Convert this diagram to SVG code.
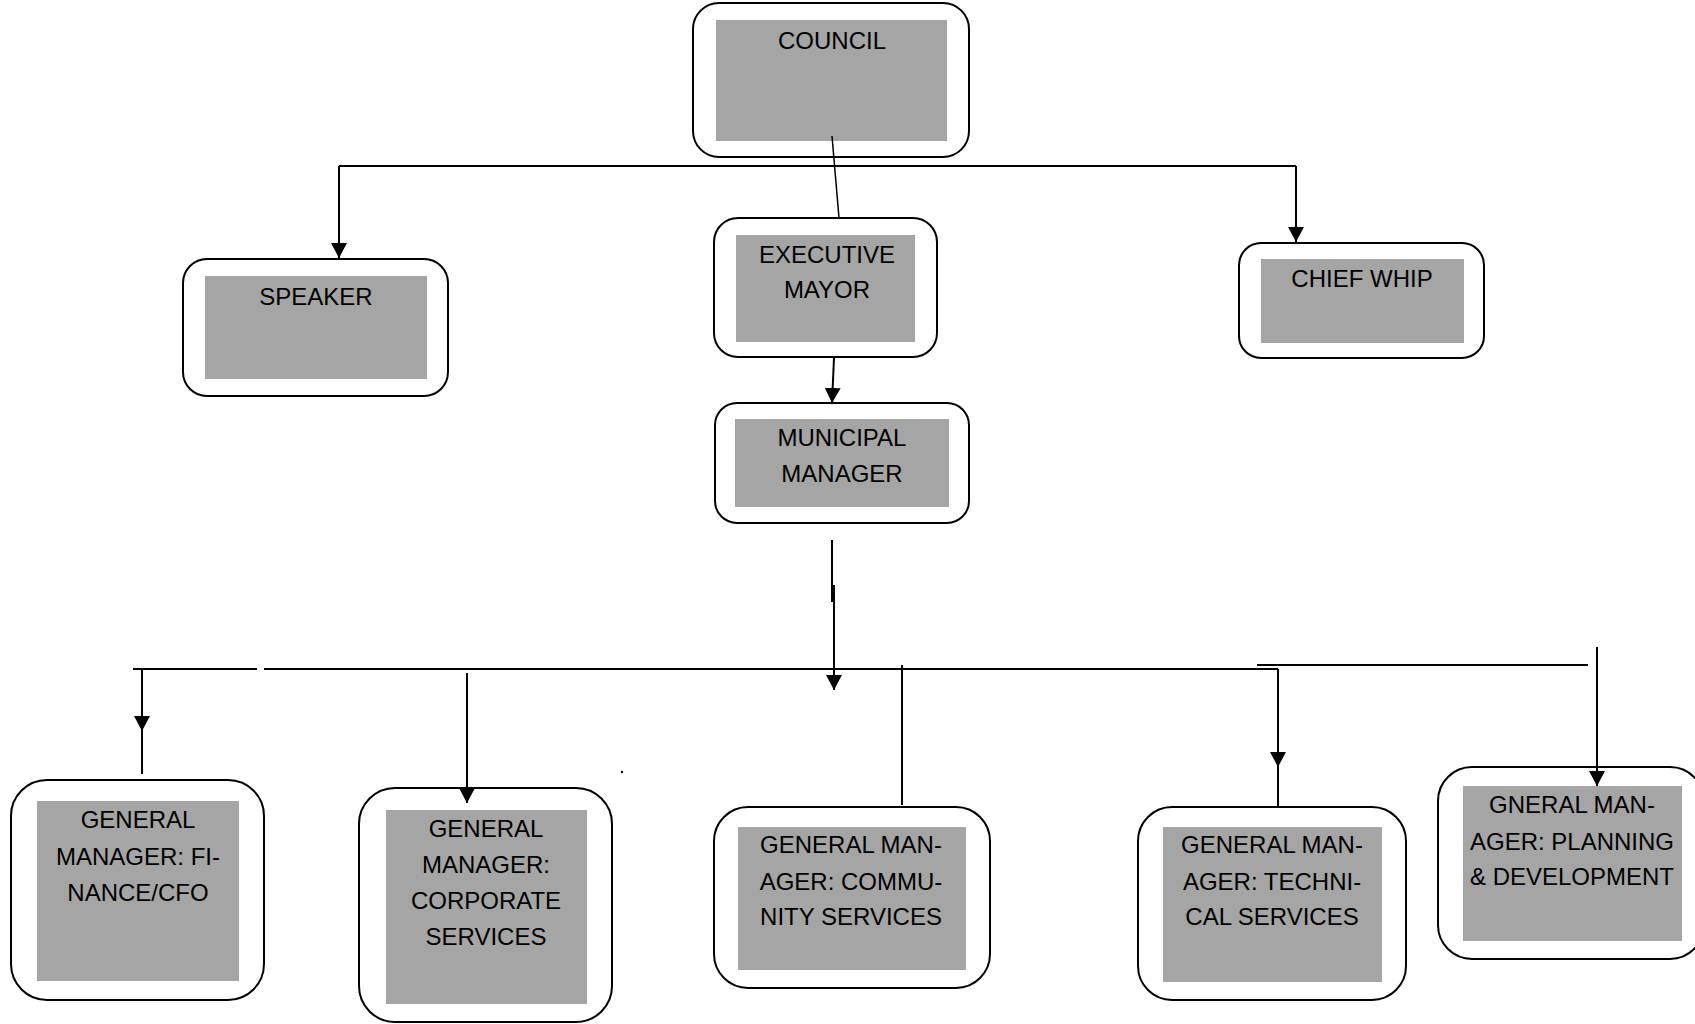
<svg xmlns="http://www.w3.org/2000/svg" width="1695" height="1024" viewBox="0 0 1695 1024">
  <style>
    .frame { fill: #ffffff; stroke: #000000; stroke-width: 2; }
    .panel { fill: #a5a5a5; stroke: none; }
    .label { font-family: "Liberation Sans", Arial, sans-serif; font-size: 24px; fill: #000000; text-anchor: middle; }
    .link { fill: none; stroke: #000000; stroke-width: 2; }
    .thin { stroke-width: 1.5; }
    .arrow { marker-end: url(#head); }
  </style>
  <defs>
    <marker id="head" markerUnits="userSpaceOnUse" markerWidth="16" markerHeight="16" refX="15" refY="8" orient="auto">
      <path d="M0,0 L15,8 L0,16 z" fill="#000000"/>
    </marker>
  </defs>

  <rect width="1695" height="1024" fill="#ffffff"/>

  <g id="council">
    <rect class="frame" x="693" y="3" width="276" height="154" rx="26"/>
    <rect class="panel" x="716" y="20" width="231" height="121"/>
    <text class="label" x="832" y="49">COUNCIL</text>
  </g>

  <g id="speaker">
    <rect class="frame" x="183" y="259" width="265" height="137" rx="24"/>
    <rect class="panel" x="205" y="276" width="222" height="103"/>
    <text class="label" x="316" y="305">SPEAKER</text>
  </g>

  <g id="executive-mayor">
    <rect class="frame" x="714" y="218" width="223" height="139" rx="24"/>
    <rect class="panel" x="736" y="235" width="179" height="107"/>
    <text class="label" x="827" y="263">EXECUTIVE</text>
    <text class="label" x="827" y="298">MAYOR</text>
  </g>

  <g id="chief-whip">
    <rect class="frame" x="1239" y="243" width="245" height="115" rx="22"/>
    <rect class="panel" x="1261" y="259" width="203" height="84"/>
    <text class="label" x="1362" y="287">CHIEF WHIP</text>
  </g>

  <g id="municipal-manager">
    <rect class="frame" x="715" y="403" width="254" height="120" rx="22"/>
    <rect class="panel" x="735" y="419" width="214" height="88"/>
    <text class="label" x="842" y="446">MUNICIPAL</text>
    <text class="label" x="842" y="482">MANAGER</text>
  </g>

  <g id="gm-finance">
    <rect class="frame" x="11" y="780" width="253" height="220" rx="36"/>
    <rect class="panel" x="37" y="801" width="202" height="180"/>
    <text class="label" x="138" y="828">GENERAL</text>
    <text class="label" x="138" y="865">MANAGER: FI-</text>
    <text class="label" x="138" y="901">NANCE/CFO</text>
  </g>

  <g id="gm-corporate">
    <rect class="frame" x="359" y="788" width="253" height="234" rx="36"/>
    <rect class="panel" x="386" y="810" width="201" height="194"/>
    <text class="label" x="486" y="837">GENERAL</text>
    <text class="label" x="486" y="873">MANAGER:</text>
    <text class="label" x="486" y="909">CORPORATE</text>
    <text class="label" x="486" y="945">SERVICES</text>
  </g>

  <g id="gm-community">
    <rect class="frame" x="714" y="807" width="276" height="181" rx="34"/>
    <rect class="panel" x="738" y="827" width="228" height="143"/>
    <text class="label" x="851" y="853">GENERAL MAN-</text>
    <text class="label" x="851" y="890">AGER: COMMU-</text>
    <text class="label" x="851" y="925">NITY SERVICES</text>
  </g>

  <g id="gm-technical">
    <rect class="frame" x="1138" y="807" width="268" height="193" rx="34"/>
    <rect class="panel" x="1163" y="827" width="219" height="155"/>
    <text class="label" x="1272" y="853">GENERAL MAN-</text>
    <text class="label" x="1272" y="890">AGER: TECHNI-</text>
    <text class="label" x="1272" y="925">CAL SERVICES</text>
  </g>

  <g id="gm-planning">
    <rect class="frame" x="1438" y="767" width="266" height="192" rx="34"/>
    <rect class="panel" x="1463" y="786" width="219" height="155"/>
    <text class="label" x="1572" y="813">GNERAL MAN-</text>
    <text class="label" x="1572" y="850">AGER: PLANNING</text>
    <text class="label" x="1572" y="885">&amp; DEVELOPMENT</text>
  </g>

  <!-- connectors, drawn over the boxes so arrowheads overlap the frames -->
  <g id="connectors">
    <path class="link thin" d="M832,136 L839,218"/>
    <path class="link" d="M339,166 H1296"/>
    <path class="link arrow" d="M339,166 V258"/>
    <path class="link arrow" d="M1296,166 V242"/>
    <path class="link arrow" d="M834,358 L832,403"/>
    <path class="link" d="M832,540 V602"/>
    <path class="link arrow" d="M834,585 V690"/>
    <path class="link" d="M133,669 H257"/>
    <path class="link" d="M264,669 H1278"/>
    <path class="link" d="M1257,665 H1588"/>
    <path class="link arrow" d="M142,669 V731"/>
    <path class="link" d="M142,731 V774"/>
    <path class="link arrow" d="M467,673 V803"/>
    <path class="link" d="M902,665 V805"/>
    <path class="link arrow" d="M1278,669 V767"/>
    <path class="link" d="M1278,767 V807"/>
    <path class="link arrow" d="M1597,647 V786"/>
    <circle cx="622" cy="772" r="1.2" fill="#000000"/>
  </g>
</svg>
